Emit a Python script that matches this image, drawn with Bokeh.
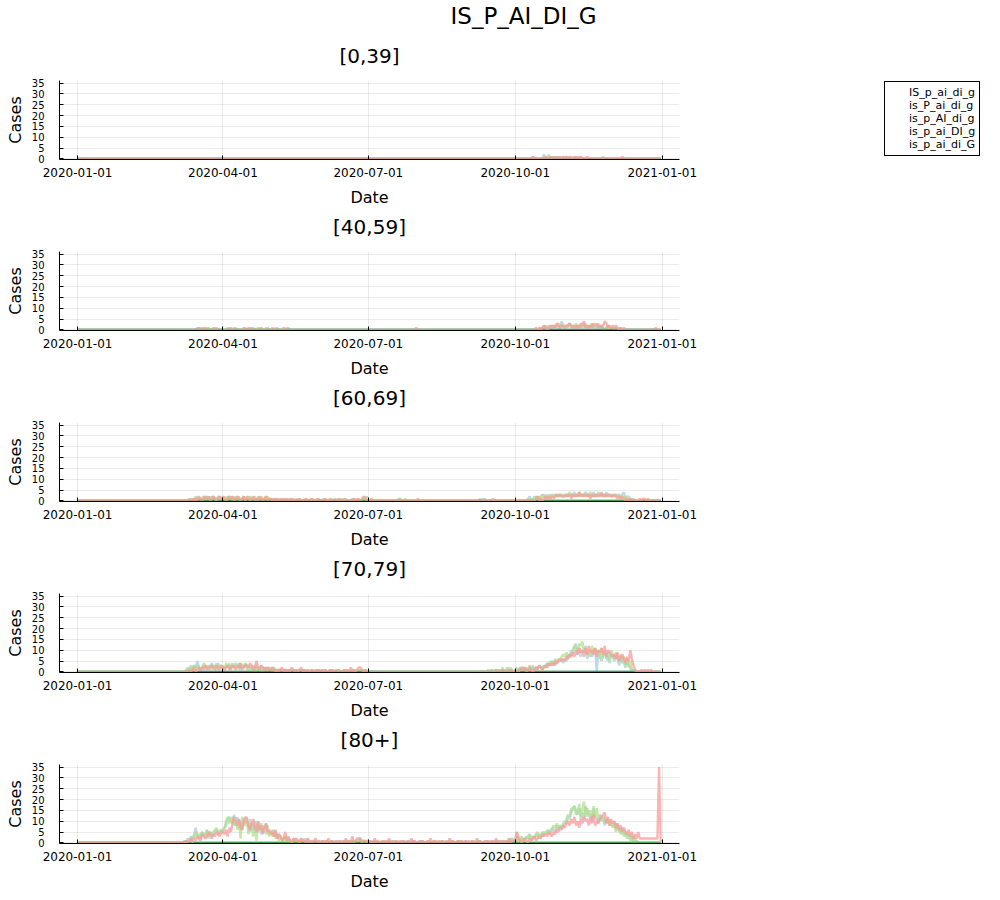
import numpy as np
import pandas as pd
from bokeh.plotting import figure
from bokeh.models import Range1d, FixedTicker, DatetimeTickFormatter, Legend, LegendItem, Title
from bokeh.layouts import column, row
from bokeh.embed import file_html
from bokeh.resources import INLINE

# ---------------- data (daily values, one base-36 character per day, by month) ----------------
DATES = pd.date_range("2020-01-01", "2020-12-31", freq="D")
PANELS = ["[0,39]", "[40,59]", "[60,69]", "[70,79]", "[80+]"]
SERIES = ["IS_p_ai_di_g", "is_P_ai_di_g", "is_p_AI_di_g", "is_p_ai_DI_g", "is_p_ai_di_G"]
COLORS = ["#a6cee3", "#1f78b4", "#b2df8a", "#33a02c", "#fb9a99"]
X_TICKS = ["2020-01-01", "2020-04-01", "2020-07-01", "2020-10-01", "2021-01-01"]
Y_TICKS = [0, 5, 10, 15, 20, 25, 30, 35]
MAIN_TITLE = "IS_P_AI_DI_G"

# [0,39]
P0_LB = {10: "0000000000" "0100000020" "1001010100" "1", 11: "0101001000" "1000000000" "0000000000"}
P0_DB = {}
P0_LG = {10: "0000000000" "0000000001" "0201001010" "1", 11: "0100100100" "0000000000" "0000100000"}
P0_DG = {}
P0_PK = {10: "0000000000" "0100000001" "0010101010" "1", 11: "0101001010" "1000100000" "0000000000",
         12: "0000001"}

# [40,59]
P40_LB = {3: "0000000000000001010100100001000", 4: "000010001000000010010001000010",
          5: "0000100000010000000000000000000",
          10: "0000000000" "0000001020" "1201212104" "2", 11: "1213121212" "1312121312" "1212101210",
          12: "1010100000"}
P40_DB = {}
P40_LG = {3: "0000000000000000101000100010000", 4: "000100010000001000100010000100",
          5: "0001000000100000000000000000000",
          10: "0000000000" "0000000102" "1021212322" "1", 11: "2123121312" "1213121312" "1312101211",
          12: "1010010000"}
P40_DG = {}
P40_PK = {3: "0000000000000000100010000100000", 4: "000001000000010001000000100000",
          5: "0100000010000000000000000000000", 7: "0000000000000000000000000000001",
          10: "0000000000" "0001010121" "0121213212" "2", 11: "1223212121" "3241212132" "3121243121",
          12: "2121010100" "0000000000" "0000000100"}

# [60,69]
P60_LB = {3: "0000000000100120101212012101211", 4: "101201210120120102101020101201",
          5: "0101001000100100010000100010001", 6: "000100000100010000001000100002",
          7: "0000000000000000000110000000000", 9: "000000001010000000000000000000",
          10: "0000000012" "0121212321" "3232323232" "3", 11: "2323234232" "3234323242" "3232324232",
          12: "3232323412" "2101000000"}
P60_DB = {}
P60_LG = {3: "0000000000010102101210201210120", 4: "120121012010120121012010210120",
          5: "1001010010001000101000100010000", 6: "001000010000100010000100000120",
          7: "0000000000000000000010010000000", 9: "000000000001000000000000000000",
          10: "0000000001" "0102121232" "1213232323" "2", 11: "3234332324" "3332334323" "2433232332",
          12: "2323212120" "1010000000"}
P60_DG = {}
P60_PK = {3: "0000000000001010210121201210121", 4: "210121201210120210120102101201",
          5: "1010100101001010001000100100010", 6: "000100100001000100000101001210",
          7: "0010000000000000000000000000000", 8: "1000000000000000000000000000000",
          9: "000000000000000010000000000000",
          10: "0000000000" "0001201012" "1212123232" "2", 11: "2323132324" "2323231323" "2324232323",
          12: "2321212101" "0100000101" "1010000000"}

# [70,79]
P70_LB = {3: "0000000012" "0313252123" "21324231423", 4: "2132314232" "4132431213" "1212312121",
          5: "1210110101" "1010010100" "10000100010", 6: "0100001000" "1000010000" "1000101010",
          9: "0000000000" "0000010010" "1001020100",
          10: "1012121012" "1312132232" "4335434556" "4", 11: "6587a9cd8b" "7a9c68a79b" "0a857a6948",
          12: "7586357426" "3201"}
P70_DB = {}
P70_LG = {3: "0000000001" "2023132124" "32231324132", 4: "3142413243" "1432412312" "0312102121",
          5: "1021011010" "0101001010" "01010010001", 6: "0001000100" "0010001000" "0100101010",
          9: "0000000000" "0001001010" "1020101200",
          10: "0201121213" "1212232132" "4353464657" "8", 11: "79687acb9d" "ce9b8a7c9b" "8a6b79857a",
          12: "8697584736" "2511"}
P70_DG = {}
P70_PK = {3: "0000000000" "1012012121" "32123213213", 4: "2123123213" "2412332431" "2521321212",
          5: "1210101201" "0102101012" "01010010101", 6: "0101001010" "0100010102" "0101221010",
          9: "0000000000" "0000000010" "0010001010",
          10: "0001212012" "1012132123" "2434354565" "6", 11: "5768797a8b" "9a7b8c9a8b" "7a9b8c7a98",
          12: "7869578647" "5a63100010" "1010100000" "0"}

# [80+]
P80_LB = {3: "0000000102132473245346253456456", 4: "678bca9d8c7a6b9c7596a857486945",
          5: "4635243123121012101201021010100", 6: "010010001000100101001010121010",
          7: "0100010000100100010000101000100", 8: "0010000100010000100001000010001",
          9: "000100010000100010010001010121",
          10: "2131212324232434354546576587879", 11: "a9cbeghfdgcebhfcdagcb9dac8b9a8",
          12: "8a69574635241301"}
P80_DB = {}
P80_LG = {3: "0000000010213253425436354567465", 4: "57ac9bc8a6b2c98a4b7381a6957483",
          5: "5362413213021012010102010101001", 6: "001010010010001001010100210101",
          7: "1000100010000100100001000100010", 8: "0001000100010001000010000100100",
          9: "000010001000010001000100101210",
          10: "1502312234" "1324524354" "6546879687" "7", 11: "9bdcgfhdeibgjcgdfbhcgadbc9ab8a",
          12: "7958647352413020"}
P80_DG = {}
P80_PK = {3: "0000000010120213214323542435435", 4: "5463759ca8b76acb869b75a6847956",
          5: "4536243125131021210211020101201", 6: "010102010010101020103012220110",
          7: "1010201001010201001010100102010", 8: "0101001020100101001020100101001",
          9: "010100201001010100201010102011",
          10: "1521012102" "1231232434" "3543546576" "8", 11: "79a8b9c8a7b9cab8c9d8a9bcde9c8b",
          12: "9a79685754" "6352425222" "222222222" "z0"}

PANEL_DATA = [
    [P0_LB, P0_DB, P0_LG, P0_DG, P0_PK],
    [P40_LB, P40_DB, P40_LG, P40_DG, P40_PK],
    [P60_LB, P60_DB, P60_LG, P60_DG, P60_PK],
    [P70_LB, P70_DB, P70_LG, P70_DG, P70_PK],
    [P80_LB, P80_DB, P80_LG, P80_DG, P80_PK],
]


def decode(months):
    vals = np.zeros(len(DATES))
    for m, s in months.items():
        idx = np.where(DATES.month == m)[0]
        for i, ch in enumerate(s[:len(idx)]):
            vals[idx[i]] = int(ch, 36)
    return vals


FONT = "DejaVu Sans"
DAY_MS = 86400000.0
T0 = pd.Timestamp("2020-01-01").value / 1e6
T1 = pd.Timestamp("2021-01-01").value / 1e6
X_START = T0 - 11.3 * DAY_MS
X_END = T1 + 10.8 * DAY_MS
TICK_MS = [pd.Timestamp(t).value / 1e6 for t in X_TICKS]
FMT = "%Y-%m-%d"

PW = 700            # panel figure width
LEFT = 59
FRAME_W = 620
FRAME_H = 79
TOP1 = 80
TOPN = 42
BOTTOM = 50


def spacer(gap):
    # an invisible, 1px-high title used only to push the visible title away from the frame
    return Title(text=" ", text_font_size="1px", standoff=gap, vertical_align="bottom")


figs = []
for k, (name, data) in enumerate(zip(PANELS, PANEL_DATA)):
    first = k == 0
    top = TOP1 if first else TOPN
    p = figure(width=PW, height=top + FRAME_H + BOTTOM, x_axis_type="datetime",
               x_range=Range1d(X_START, X_END), y_range=Range1d(-0.3, 36.2),
               output_backend="svg", toolbar_location=None,
               min_border_left=LEFT, min_border_right=PW - LEFT - FRAME_W,
               min_border_top=top, min_border_bottom=BOTTOM)
    p.outline_line_color = None
    p.background_fill_color = "white"
    p.border_fill_color = "white"

    for ser, col, months in zip(SERIES, COLORS, data):
        p.line(DATES, decode(months), line_color=col, line_width=2.4, line_alpha=0.75)

    p.xaxis.ticker = FixedTicker(ticks=TICK_MS)
    p.xgrid.ticker = FixedTicker(ticks=TICK_MS)
    p.xaxis.formatter = DatetimeTickFormatter(days=FMT, months=FMT, years=FMT, hours=FMT,
                                              minutes=FMT, seconds=FMT, milliseconds=FMT,
                                              microseconds=FMT, hourmin=FMT, minsec=FMT)
    p.yaxis.ticker = FixedTicker(ticks=Y_TICKS)
    p.ygrid.ticker = FixedTicker(ticks=Y_TICKS)
    for g in (p.xgrid, p.ygrid):
        g.grid_line_color = "#000000"
        g.grid_line_alpha = 0.08
        g.grid_line_width = 1

    for ax in (p.xaxis, p.yaxis):
        ax.major_tick_in = 4
        ax.major_tick_out = 0
        ax.minor_tick_in = 0
        ax.minor_tick_out = 0
        ax.axis_line_color = "black"
        ax.major_tick_line_color = "black"
        ax.major_label_text_font = FONT
        ax.major_label_text_color = "black"
        ax.axis_label_text_font = FONT
        ax.axis_label_text_font_size = "16px"
        ax.axis_label_text_font_style = "normal"
        ax.axis_label_text_color = "black"
    p.xaxis.major_label_text_font_size = "12px"
    p.yaxis.major_label_text_font_size = "10px"
    p.xaxis.axis_label = "Date"
    p.yaxis.axis_label = "Cases"
    p.yaxis.major_label_standoff = 15
    p.yaxis.axis_label_standoff = 4
    p.xaxis.major_label_standoff = 8
    p.xaxis.axis_label_standoff = 8

    p.add_layout(spacer(10), "above")
    pt = Title(text=name, align="center", text_font=FONT, text_font_size="20px",
               text_font_style="normal", text_color="black", standoff=0, vertical_align="bottom")
    p.add_layout(pt, "above")
    if first:
        p.add_layout(spacer(10), "above")
        mt = Title(text=MAIN_TITLE, align="left", offset=391, text_font=FONT, text_font_size="23px",
                   text_font_style="normal", text_color="black", standoff=0, vertical_align="bottom")
        p.add_layout(mt, "above")
    figs.append(p)

# legend figure placed to the right of the first panel, with the same frame rows
LW = 292
leg = figure(width=LW, height=TOP1 + FRAME_H + BOTTOM, x_range=Range1d(0, 1), y_range=Range1d(0, 1),
             x_axis_type=None, y_axis_type=None, output_backend="svg", toolbar_location=None,
             min_border_left=0, min_border_right=0, min_border_top=TOP1, min_border_bottom=BOTTOM)
leg.outline_line_color = None
leg.grid.visible = False
items = []
for ser, col in zip(SERIES, COLORS):
    r = leg.line(x=[], y=[], line_color=col, line_width=1.5)
    items.append(LegendItem(label=ser, renderers=[r]))
legend = Legend(items=items, location=(184, 3), orientation="vertical",
                label_text_font=FONT, label_text_font_size="11px", label_text_color="black",
                glyph_width=18, glyph_height=11, label_height=11, spacing=0,
                label_standoff=2, padding=4, margin=0,
                border_line_color="black", border_line_width=1, border_line_alpha=1,
                background_fill_color="white", background_fill_alpha=1)
leg.add_layout(legend)

layout = column(row(figs[0], leg, spacing=0), *figs[1:], spacing=0)
open("out.html", "w").write(file_html(layout, INLINE))
